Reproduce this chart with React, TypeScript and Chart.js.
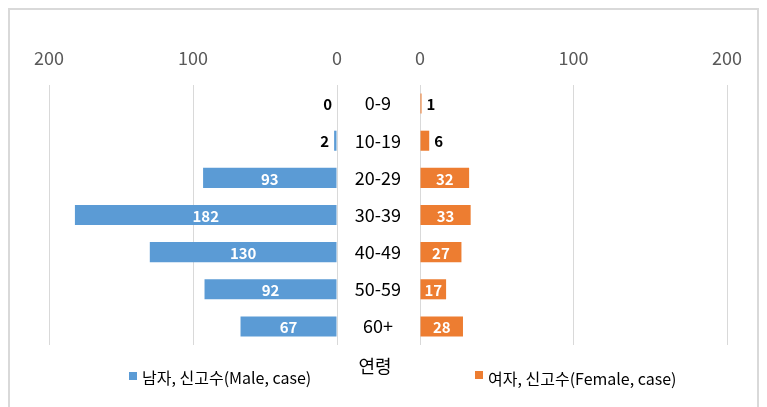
import React, { useEffect, useRef } from "react";
import { Chart, registerables } from "chart.js";

Chart.register(...registerables);

const ageGroups = ["0-9", "10-19", "20-29", "30-39", "40-49", "50-59", "60+"];
const maleCases = [0, 2, 93, 182, 130, 92, 67];
const femaleCases = [1, 6, 32, 33, 27, 17, 28];
const axisTicks = [0, 100, 200];
const maleLabel = "남자, 신고수(Male, case)";
const femaleLabel = "여자, 신고수(Female, case)";
const axisTitle = "연령";

const FONT = "'Noto Sans CJK KR', 'Open Sans', sans-serif";
const MALE_COLOR = "#5b9bd5";
const FEMALE_COLOR = "#ed7d31";
const GRID_COLOR = "#d9d9d9";

function makeLabelPlugin(dir: number) {
  return {
    id: "barValueLabels" + dir,
    afterDatasetsDraw(chart: any) {
      const ctx = chart.ctx;
      const meta = chart.getDatasetMeta(0);
      const values = chart.data.datasets[0].data as number[];
      ctx.save();
      ctx.font = `bold 15px ${FONT}`;
      ctx.textBaseline = "middle";
      meta.data.forEach((bar: any, i: number) => {
        const v = values[i];
        const w = Math.abs(bar.x - bar.base);
        if (w > 22) {
          ctx.fillStyle = "#ffffff";
          ctx.textAlign = "center";
          ctx.fillText(String(v), (bar.x + bar.base) / 2, bar.y + 1);
        } else {
          ctx.fillStyle = "#000000";
          ctx.textAlign = dir < 0 ? "right" : "left";
          ctx.fillText(String(v), bar.x + dir * 5, bar.y + 1);
        }
      });
      ctx.restore();
    },
  };
}

export default function App() {
  const leftRef = useRef<HTMLCanvasElement | null>(null);
  const rightRef = useRef<HTMLCanvasElement | null>(null);

  useEffect(() => {
    const xTicks = {
      stepSize: 100,
      color: "#595959",
      font: { family: FONT, size: 18 },
      padding: 16,
      callback: (v: any) => (axisTicks.includes(Number(v)) ? String(v) : ""),
    };
    const left = new Chart(leftRef.current as HTMLCanvasElement, {
      type: "bar",
      data: {
        labels: ageGroups,
        datasets: [
          {
            label: maleLabel,
            data: maleCases,
            backgroundColor: MALE_COLOR,
            categoryPercentage: 0.54,
            barPercentage: 1,
          },
        ],
      },
      options: {
        indexAxis: "y",
        responsive: false,
        animation: false,
        layout: { padding: { left: 49, right: 8, top: 0, bottom: 62 } },
        plugins: { legend: { display: false }, tooltip: { enabled: false } },
        scales: {
          x: {
            position: "top",
            min: 0,
            max: 200,
            reverse: true,
            ticks: xTicks,
            grid: { color: GRID_COLOR, drawTicks: false, lineWidth: 1 },
            border: { display: false },
            afterFit: (s: any) => {
              s.height = 85;
            },
          },
          y: { display: false },
        },
      },
      plugins: [makeLabelPlugin(-1)],
    } as any);

    const right = new Chart(rightRef.current as HTMLCanvasElement, {
      type: "bar",
      data: {
        labels: ageGroups,
        datasets: [
          {
            label: femaleLabel,
            data: femaleCases,
            backgroundColor: FEMALE_COLOR,
            categoryPercentage: 0.54,
            barPercentage: 1,
          },
        ],
      },
      options: {
        indexAxis: "y",
        responsive: false,
        animation: false,
        layout: { padding: { left: 0, right: 40, top: 0, bottom: 62 } },
        plugins: { legend: { display: false }, tooltip: { enabled: false } },
        scales: {
          x: {
            position: "top",
            min: 0,
            max: 200,
            ticks: xTicks,
            grid: { color: GRID_COLOR, drawTicks: false, lineWidth: 1 },
            border: { display: false },
            afterFit: (s: any) => {
              s.height = 85;
            },
          },
          y: {
            position: "left",
            ticks: {
              color: "#000000",
              font: { family: FONT, size: 18 },
              crossAlign: "center",
              padding: 19,
            },
            grid: { display: false, drawTicks: false },
            border: { display: false },
            afterFit: (s: any) => {
              s.width = 83;
            },
          },
        },
      },
      plugins: [makeLabelPlugin(1)],
    } as any);

    return () => {
      left.destroy();
      right.destroy();
    };
  }, []);

  const legendText: React.CSSProperties = {
    position: "absolute",
    fontFamily: FONT,
    fontSize: 16,
    color: "#000",
    lineHeight: "20px",
    whiteSpace: "nowrap",
  };

  return (
    <div
      style={{
        position: "absolute",
        left: 0,
        top: 0,
        width: 767,
        height: 407,
        overflow: "hidden",
        background: "#fff",
      }}
    >
      <div
        style={{
          position: "absolute",
          left: 8,
          top: 8,
          width: 751,
          height: 430,
          boxSizing: "border-box",
          border: `2px solid ${GRID_COLOR}`,
        }}
      />
      <canvas
        ref={leftRef}
        width={358}
        height={407}
        style={{ position: "absolute", left: 0, top: 0, width: 358, height: 407 }}
      />
      <canvas
        ref={rightRef}
        width={430}
        height={407}
        style={{ position: "absolute", left: 337, top: 0, width: 430, height: 407 }}
      />
      <div
        style={{
          position: "absolute",
          left: 340,
          width: 70,
          top: 352,
          textAlign: "center",
          fontFamily: FONT,
          fontSize: 18,
          lineHeight: "26px",
          color: "#000",
        }}
      >
        {axisTitle}
      </div>
      <div style={{ position: "absolute", left: 129, top: 372, width: 8, height: 8, background: MALE_COLOR }} />
      <div style={{ ...legendText, left: 142, top: 367 }}>{maleLabel}</div>
      <div style={{ position: "absolute", left: 475, top: 371, width: 8, height: 8, background: FEMALE_COLOR }} />
      <div style={{ ...legendText, left: 488, top: 368 }}>{femaleLabel}</div>
    </div>
  );
}
